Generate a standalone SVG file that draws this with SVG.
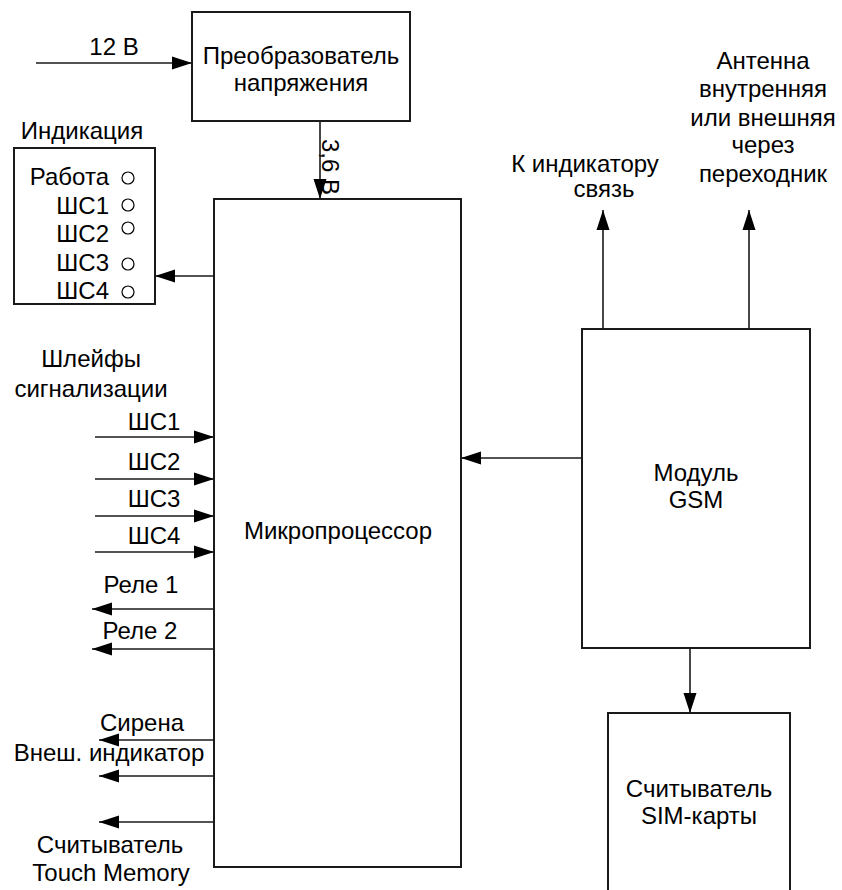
<svg xmlns="http://www.w3.org/2000/svg" width="842" height="890" viewBox="0 0 842 890">
<style>
text{font-family:"Liberation Sans",Arial,sans-serif;font-size:24px;fill:#000}
.m{text-anchor:middle}
.e{text-anchor:end}
.box{fill:#fff;stroke:#1a1a1a;stroke-width:2}
.ln{fill:none;stroke:#1a1a1a;stroke-width:1.6}
.led{fill:none;stroke:#000;stroke-width:1.2}
</style>
<defs>
<marker id="ar" markerUnits="userSpaceOnUse" markerWidth="20" markerHeight="14" refX="20" refY="7" orient="auto" viewBox="0 0 20 14">
<path d="M0,0.5 L20,7 L0,13.5 z" fill="#000"/>
</marker>
</defs>
<rect width="842" height="890" fill="#fff"/>
<g id="connectors">
<line class="ln" x1="36" y1="63" x2="192" y2="63" marker-end="url(#ar)"/>
<line class="ln" x1="320" y1="121" x2="320" y2="199" marker-end="url(#ar)"/>
<line class="ln" x1="214" y1="276" x2="155" y2="276" marker-end="url(#ar)"/>
<line class="ln" x1="95" y1="437" x2="214" y2="437" marker-end="url(#ar)"/>
<line class="ln" x1="95" y1="479" x2="214" y2="479" marker-end="url(#ar)"/>
<line class="ln" x1="95" y1="516" x2="214" y2="516" marker-end="url(#ar)"/>
<line class="ln" x1="95" y1="552" x2="214" y2="552" marker-end="url(#ar)"/>
<line class="ln" x1="214" y1="609" x2="92" y2="609" marker-end="url(#ar)"/>
<line class="ln" x1="214" y1="649" x2="92" y2="649" marker-end="url(#ar)"/>
<line class="ln" x1="222" y1="740" x2="99" y2="740" marker-end="url(#ar)"/>
<line class="ln" x1="222" y1="776" x2="99" y2="776" marker-end="url(#ar)"/>
<line class="ln" x1="222" y1="822" x2="99" y2="822" marker-end="url(#ar)"/>
<line class="ln" x1="582" y1="458" x2="461" y2="458" marker-end="url(#ar)"/>
<line class="ln" x1="603" y1="329" x2="603" y2="210" marker-end="url(#ar)"/>
<line class="ln" x1="749" y1="329" x2="749" y2="210" marker-end="url(#ar)"/>
<line class="ln" x1="690" y1="640" x2="690" y2="713" marker-end="url(#ar)"/>
</g>
<g id="converter">
<rect class="box" x="192" y="12" width="218" height="109"/>
<text class="m" x="301" y="64">Преобразователь</text>
<text class="m" x="301" y="91">напряжения</text>
</g>
<g id="label-12v"><text class="m" x="114" y="55">12 В</text></g>
<g id="label-36v"><text transform="translate(322,139) rotate(90)" x="0" y="0">3,6 В</text></g>
<g id="indication">
<text class="m" x="82" y="139">Индикация</text>
<rect class="box" x="14" y="148" width="141" height="156"/>
<text class="e" x="109" y="185">Работа</text>
<text class="e" x="109" y="214">ШС1</text>
<text class="e" x="109" y="242">ШС2</text>
<text class="e" x="109" y="271">ШС3</text>
<text class="e" x="109" y="299">ШС4</text>
<circle class="led" cx="128" cy="178" r="6"/>
<circle class="led" cx="128" cy="205" r="6"/>
<circle class="led" cx="128" cy="228" r="6"/>
<circle class="led" cx="128" cy="264" r="6"/>
<circle class="led" cx="128" cy="292" r="6"/>
</g>
<g id="microprocessor">
<rect class="box" x="214" y="199" width="247" height="668"/>
<text class="m" x="338" y="539">Микропроцессор</text>
</g>
<g id="loops">
<text class="m" x="91" y="367">Шлейфы</text>
<text class="m" x="91" y="397">сигнализации</text>
<text class="m" x="154" y="430">ШС1</text>
<text class="m" x="154" y="470">ШС2</text>
<text class="m" x="154" y="507">ШС3</text>
<text class="m" x="154" y="544">ШС4</text>
<text class="m" x="141" y="593">Реле 1</text>
<text class="m" x="140" y="639">Реле 2</text>
<text class="m" x="142" y="731">Сирена</text>
<text class="m" x="109" y="761">Внеш. индикатор</text>
<text class="m" x="110" y="853">Считыватель</text>
<text class="m" x="111" y="881">Touch Memory</text>
</g>
<g id="gsm">
<rect class="box" x="582" y="329" width="228" height="319"/>
<text class="m" x="696" y="481">Модуль</text>
<text class="m" x="696" y="508">GSM</text>
</g>
<g id="gsm-labels">
<text class="m" x="585" y="172">К индикатору</text>
<text class="m" x="604" y="197">связь</text>
<text class="m" x="763" y="69">Антенна</text>
<text class="m" x="763" y="97">внутренняя</text>
<text class="m" x="763" y="126">или внешняя</text>
<text class="m" x="763" y="153">через</text>
<text class="m" x="763" y="182">переходник</text>
</g>
<g id="sim">
<rect class="box" x="608" y="713" width="182" height="190"/>
<text class="m" x="699" y="797">Считыватель</text>
<text class="m" x="699" y="824">SIM-карты</text>
</g>
</svg>
